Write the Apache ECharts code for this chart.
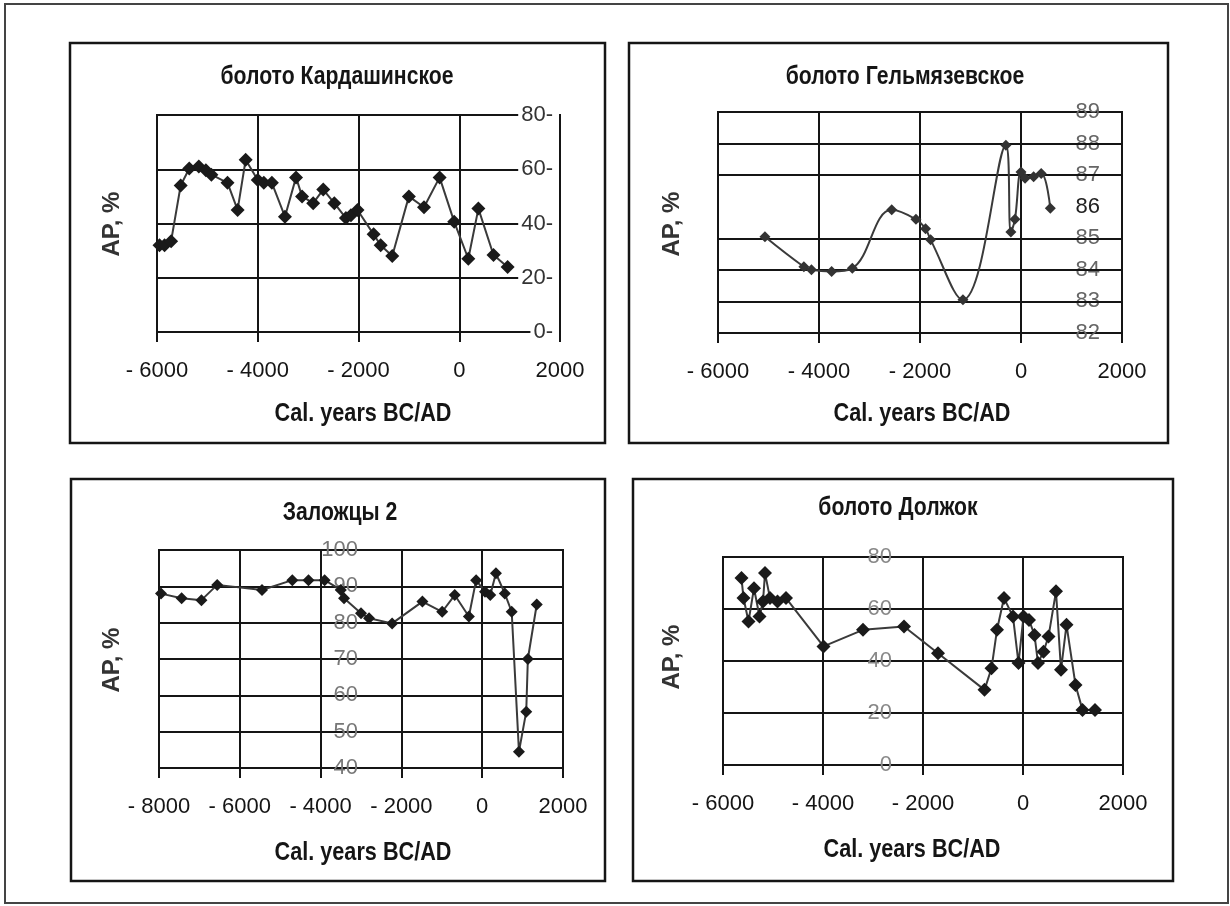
<!DOCTYPE html>
<html>
<head>
<meta charset="utf-8">
<script src="https://cdn.jsdelivr.net/npm/echarts@6/dist/echarts.min.js"></script>
<style>
html,body{margin:0;padding:0;background:#fff;}
#chart{width:1230px;height:906px;}
</style>
</head>
<body>
<div id="chart"></div>
<script>
// болото Кардашинское
var years1 = [-5950,-5850,-5720,-5530,-5360,-5170,-5030,-4920,-4600,-4400,-4240,-4000,-3880,-3720,-3460,-3240,-3120,-2900,-2700,-2480,-2250,-2150,-2020,-1700,-1560,-1330,-1000,-700,-390,-100,180,380,680,960];
var ap1 = [32,32,33.5,54,60.3,61,59.6,58,55,45,63.5,56,55,55,42.5,57,50,47.5,52.5,47.5,42,43,45,36,32,28,50,46,57,40.6,27,45.5,28.4,24];

// болото Гельмязевское
var years2 = [-5070,-4300,-4150,-3750,-3340,-2560,-2080,-1890,-1790,-1150,-300,-200,-120,0,80,250,400,580];
var ap2 = [85.05,84.1,84.0,83.95,84.05,85.9,85.6,85.3,84.95,83.05,87.95,85.2,85.6,87.1,86.9,86.95,87.05,85.95];

// Заложцы 2
var years3 = [-7950,-7440,-6950,-6560,-5450,-4700,-4300,-3900,-3500,-3420,-3000,-2800,-2230,-1480,-990,-680,-330,-150,70,200,340,560,730,910,1090,1130,1350];
var ap3 = [88,86.7,86.2,90.4,89,91.7,91.7,91.7,89,86.7,82.6,81.2,79.8,85.8,83,87.6,81.7,91.7,88.5,87.6,93.6,88,83,44.5,55.5,70,85];

// болото Должок
var years4 = [-5630,-5590,-5490,-5380,-5270,-5200,-5160,-5060,-4910,-4740,-3990,-3200,-2380,-1700,-770,-630,-520,-380,-200,-90,10,120,230,300,410,510,660,760,870,1050,1190,1440];
var ap4 = [71.9,64.2,55.2,68,57.1,62.9,73.8,64.2,62.9,64.2,45.6,52,53.3,43,28.9,37.2,52,64.2,57.1,39.2,57.1,55.8,50,39.2,43.6,49.4,66.8,36.6,53.9,30.8,21.2,21.2];

var titles = ['болото Кардашинское','болото Гельмязевское','Заложцы 2','болото Должок'];
var xName = 'Cal. years BC/AD';
var yName = 'AP, %';
var xTicks1 = [-6000,-4000,-2000,0,2000];
var xTicks3 = [-8000,-6000,-4000,-2000,0,2000];
var yTicks1 = [0,20,40,60,80];
var yTicks2 = [82,83,84,85,86,87,88,89];
var yLines2 = [83,84,85,87,88];
var yTicks3 = [40,50,60,70,80,90,100];
var yTicks4 = [0,20,40,60,80];

var FONT = "'Liberation Sans', Arial, sans-serif";
var INK = '#151515';

// squeeze bold labels to look like the narrow font of the original
var ctx = document.createElement('canvas').getContext('2d');
function squeeze(text, size, target) {
  ctx.font = 'bold ' + size + "px 'Liberation Sans'";
  return target / ctx.measureText(text).width;
}
var titleScale = squeeze(titles[0], 25, 233);
var nameScale = squeeze(xName, 25, 177);

function pairs(xs, ys) {
  var out = [];
  for (var i = 0; i < xs.length; i++) out.push([xs[i], ys[i]]);
  return out;
}
function xFmt(v) {
  return v < 0 ? '- ' + Math.abs(v) : String(v);
}

var grids = [
  {left: 157, top: 115, width: 403, height: 217},
  {left: 718, top: 112, width: 404, height: 221},
  {left: 159, top: 550, width: 404, height: 218},
  {left: 723, top: 557, width: 400, height: 208}
];
grids.forEach(function (g) {
  g.show = true; g.borderColor = INK; g.borderWidth = 2; g.backgroundColor = 'transparent';
});

var xTickSets = [xTicks1, xTicks1, xTicks3, xTicks1];
var xAxes = xTickSets.map(function (t, i) {
  return {
    type: 'value', gridIndex: i,
    min: t[0], max: t[t.length - 1], interval: t[1] - t[0],
    axisLine: {show: true, lineStyle: {color: INK, width: 2}},
    axisTick: {show: true, length: 10, lineStyle: {color: INK, width: 2}},
    axisLabel: {formatter: xFmt, fontFamily: FONT, fontSize: 22, color: INK, margin: 28},
    splitLine: {show: true, lineStyle: {color: INK, width: 2}}
  };
});

function yBase(i, t) {
  return {
    type: 'value', gridIndex: i,
    min: t[0], max: t[t.length - 1], interval: t[1] - t[0],
    splitLine: {show: true, lineStyle: {color: INK, width: 2}}
  };
}

var y1 = yBase(0, yTicks1);
y1.position = 'right';
y1.axisLine = {show: true, lineStyle: {color: INK, width: 2}};
y1.axisTick = {show: false};
y1.axisLabel = {inside: true, margin: 1, formatter: function (v) { return v + '-'; },
  fontFamily: FONT, fontSize: 22, color: '#333', backgroundColor: '#fff', padding: [0, 6, 0, 3]};

var y2 = yBase(1, yTicks2);
y2.position = 'right';
y2.splitLine = {show: false};
y2.axisLine = {show: true, lineStyle: {color: INK, width: 2}};
y2.axisTick = {show: false};
y2.axisLabel = {inside: true, margin: 22, fontFamily: FONT, fontSize: 22,
  color: function (v) { return Number(v) === 86 ? '#222' : '#666'; }};

var y3 = yBase(2, yTicks3);
y3.position = 'left';
y3.offset = -205;
y3.axisLine = {show: false};
y3.axisTick = {show: false};
y3.axisLabel = {margin: 6, fontFamily: FONT, fontSize: 22, color: '#777'};

var y4 = yBase(3, yTicks4);
y4.position = 'left';
y4.offset = -175;
y4.axisLine = {show: false};
y4.axisTick = {show: false};
y4.axisLabel = {margin: 6, fontFamily: FONT, fontSize: 22, color: '#888'};

function lineSeries(i, xs, ys, extra) {
  var s = {
    type: 'line', xAxisIndex: i, yAxisIndex: i,
    data: pairs(xs, ys),
    symbol: 'diamond', symbolSize: 14,
    itemStyle: {color: '#1a1a1a'},
    lineStyle: {color: '#3a3a3a', width: 2},
    z: 5
  };
  for (var k in extra) s[k] = extra[k];
  return s;
}

var series = [
  lineSeries(0, years1, ap1, {}),
  lineSeries(1, years2, ap2, {
    smooth: 0.4, symbolSize: 11, itemStyle: {color: '#333'},
    markLine: {
      silent: true, symbol: 'none', label: {show: false},
      lineStyle: {color: INK, width: 2, type: 'solid'},
      data: yLines2.map(function (v) { return {yAxis: v}; })
    }
  }),
  lineSeries(2, years3, ap3, {symbolSize: 12}),
  lineSeries(3, years4, ap4, {})
];

var titlePos = [[337, 77], [905, 77], [340, 513], [898, 508]];
var apPos = [[112, 224], [672, 224], [112, 660], [672, 657]];
var namePos = [[363, 414], [922, 414], [363, 853], [912, 850]];
var boxes = [[70, 43, 535, 400], [629, 43, 539, 400], [71, 479, 534, 402], [633, 479, 540, 402]];

var graphic = [{
  type: 'rect', shape: {x: 5, y: 4, width: 1223, height: 899},
  style: {fill: 'none', stroke: '#444', lineWidth: 2}, silent: true
}];
boxes.forEach(function (b) {
  graphic.push({type: 'rect', shape: {x: b[0], y: b[1], width: b[2], height: b[3]},
    style: {fill: 'none', stroke: INK, lineWidth: 2.5}, silent: true});
});
titles.forEach(function (t, i) {
  graphic.push({type: 'text', x: titlePos[i][0], y: titlePos[i][1], scaleX: titleScale, silent: true,
    style: {text: t, fontFamily: FONT, fontSize: 25, fontWeight: 'bold', fill: INK,
      textAlign: 'center', textVerticalAlign: 'middle'}});
  graphic.push({type: 'text', x: namePos[i][0], y: namePos[i][1], scaleX: nameScale, silent: true,
    style: {text: xName, fontFamily: FONT, fontSize: 25, fontWeight: 'bold', fill: INK,
      textAlign: 'center', textVerticalAlign: 'middle'}});
  graphic.push({type: 'text', x: apPos[i][0], y: apPos[i][1], rotation: Math.PI / 2, silent: true,
    style: {text: yName, fontFamily: FONT, fontSize: 24, fontWeight: 'bold', fill: '#333',
      textAlign: 'center', textVerticalAlign: 'middle'}});
});

var chart = echarts.init(document.getElementById('chart'));
chart.setOption({
  animation: false,
  backgroundColor: '#fff',
  grid: grids,
  xAxis: xAxes,
  yAxis: [y1, y2, y3, y4],
  series: series,
  graphic: graphic
});
</script>
</body>
</html>
